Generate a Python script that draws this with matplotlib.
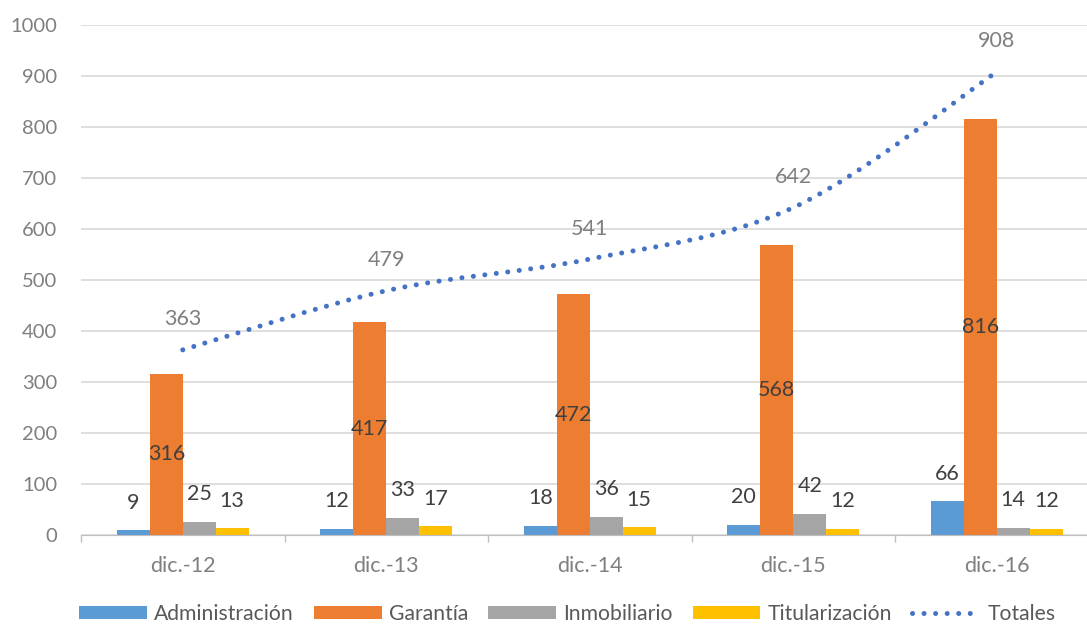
import matplotlib.pyplot as plt
import numpy as np
from matplotlib.path import Path
from matplotlib.patches import PathPatch, Patch
from matplotlib.lines import Line2D

plt.rcParams['font.family'] = ['Lato', 'DejaVu Sans']

categories = ["dic.-12", "dic.-13", "dic.-14", "dic.-15", "dic.-16"]
administracion = [9, 12, 18, 20, 66]
garantia = [316, 417, 472, 568, 816]
inmobiliario = [25, 33, 36, 42, 14]
titularizacion = [13, 17, 15, 12, 12]
totales = [363, 479, 541, 642, 908]

series = [
    ("Administración", administracion, "#5B9BD5"),
    ("Garantía", garantia, "#ED7D31"),
    ("Inmobiliario", inmobiliario, "#A5A5A5"),
    ("Titularización", titularizacion, "#FFC000"),
]
LABEL = "#404040"
GREY = "#7F7F7F"
LEG = "#595959"
LINE = "#4472C4"
DOTS = (0, (0.01, 2.3))

fig = plt.figure(figsize=(10.87, 6.28), dpi=100)
# plot area is wider than the canvas on the right (cropped like the original)
ax = fig.add_axes([81 / 1087, 1 - 535 / 628, 1017.5 / 1087, 510 / 628])

x = np.arange(len(categories))
width = 0.162
offsets = (np.arange(4) - 1.5) * width

for (name, vals, col), off in zip(series, offsets):
    bars = ax.bar(x + off, vals, width, color=col, label=name, zorder=2)
    for b, v in zip(bars, vals):
        cx = b.get_x() + b.get_width() / 2
        if name == "Garantía":
            ax.text(cx, v / 2, str(v), ha="center", va="center",
                    fontsize=15.5, color=LABEL, zorder=4)
        else:
            ax.annotate(str(v), (cx, v), xytext=(0, 20), textcoords="offset points",
                        ha="center", va="center", fontsize=15.5, color=LABEL, zorder=4)

# smoothed totals line (Catmull-Rom as cubic Bezier, like Excel's smoothing)
pts = np.column_stack([x, totales]).astype(float)
verts = [tuple(pts[0])]
codes = [Path.MOVETO]
for i in range(len(pts) - 1):
    p0 = pts[i - 1] if i > 0 else pts[i]
    p1, p2 = pts[i], pts[i + 1]
    p3 = pts[i + 2] if i + 2 < len(pts) else pts[i + 1]
    verts += [tuple(p1 + (p2 - p0) / 6), tuple(p2 - (p3 - p1) / 6), tuple(p2)]
    codes += [Path.CURVE4] * 3
ax.add_patch(PathPatch(Path(verts, codes), fill=False, edgecolor=LINE,
                       linewidth=3.6, linestyle=DOTS, capstyle="round", zorder=3))
for xi, v in zip(x, totales):
    ax.annotate(str(v), (xi, v), xytext=(0, 22), textcoords="offset points",
                ha="center", va="center", fontsize=15.5, color=GREY, zorder=4)

ax.set_xlim(-0.5, 4.5)
ax.set_ylim(0, 1000)
ax.set_yticks(np.arange(0, 1001, 100))
ax.set_xticks(x)
ax.set_xticklabels(categories)
ax.set_xticks(np.arange(-0.5, 4.6, 1), minor=True)
ax.tick_params(axis="x", which="major", length=0, pad=15, labelsize=15.5, labelcolor=GREY)
ax.tick_params(axis="x", which="minor", length=5, color="#BFBFBF", width=1)
ax.tick_params(axis="y", length=0, pad=17, labelsize=14.5, labelcolor=GREY)
ax.grid(axis="y", color="#D9D9D9", linewidth=1.2, zorder=0)
ax.set_axisbelow(True)
for s in ["top", "right", "left"]:
    ax.spines[s].set_visible(False)
ax.spines["bottom"].set_color("#BFBFBF")
ax.spines["bottom"].set_zorder(5)

handles = [Patch(facecolor=c, label=n) for n, _, c in series]
handles.append(Line2D([0], [0], color=LINE, linewidth=3.6, linestyle=DOTS,
                      dash_capstyle="round", label="Totales"))
fig.legend(handles=handles, loc="lower center", bbox_to_anchor=(0.522, -0.024), ncol=5,
           frameon=False, fontsize=15.2, labelcolor=LEG, handlelength=3.2,
           handleheight=0.6, columnspacing=0.95, handletextpad=0.35)

fig.savefig("out.png", dpi=100)
